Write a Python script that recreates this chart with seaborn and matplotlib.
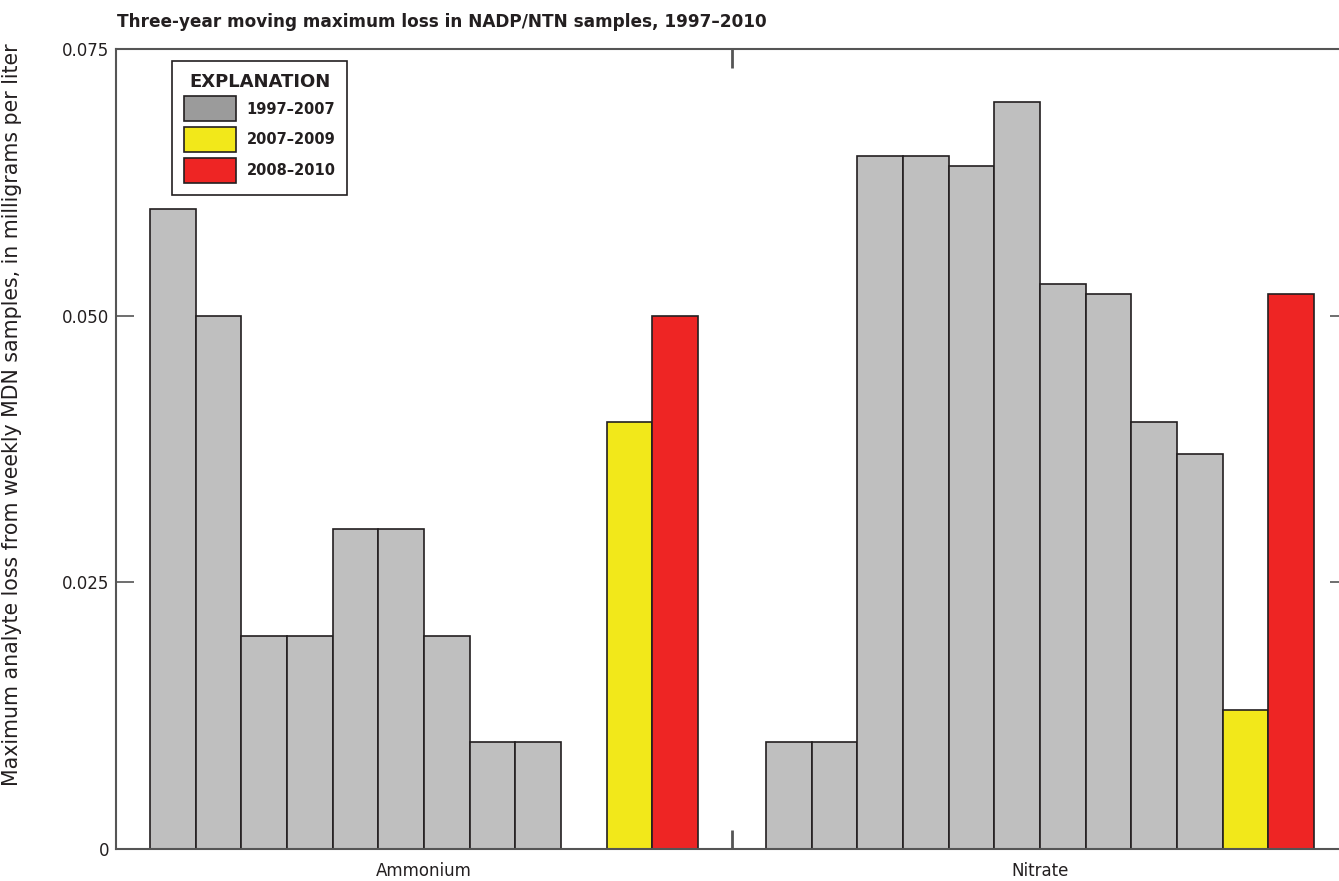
import seaborn as sns
import matplotlib.pyplot as plt
from matplotlib.patches import Patch
from matplotlib.ticker import FixedLocator
import pandas as pd
import numpy as np

# three-year moving windows, in plotting order
windows = ['1997–1999', '1998–2000', '1999–2001', '2000–2002', '2001–2003',
           '2002–2004', '2003–2005', '2004–2006', '2005–2007', '2006–2008',
           '2007–2009', '2008–2010']
periods = ['1997–2007'] * 10 + ['2007–2009', '2008–2010']

ammonium = [0.060, 0.050, 0.020, 0.020, 0.030, 0.030, 0.020, 0.010, 0.010,
            np.nan, 0.040, 0.050]
nitrate = [0.010, 0.010, 0.065, 0.065, 0.064, 0.070, 0.053, 0.052, 0.040,
           0.037, 0.013, 0.052]

period_colors = {'1997–2007': '#bfbfbf', '2007–2009': '#f2e81a', '2008–2010': '#ee2524'}
legend_colors = {'1997–2007': '#9b9b9b', '2007–2009': '#f2e81a', '2008–2010': '#ee2524'}

df = pd.DataFrame({
    'analyte': ['Ammonium'] * 12 + ['Nitrate'] * 12,
    'window': windows * 2,
    'loss': ammonium + nitrate,
})
palette = {w: period_colors[p] for w, p in zip(windows, periods)}

sns.set_style('ticks')
plt.rcParams['font.family'] = ['DejaVu Sans']

fig = plt.figure(figsize=(13.39, 8.81), dpi=100)
ax = fig.add_axes([0.0866, 0.0363, 0.9201, 0.9081])

sns.barplot(data=df, x='analyte', y='loss', hue='window', hue_order=windows,
            palette=palette, width=0.89, gap=0, dodge=True, legend=False,
            edgecolor='#231f20', linewidth=1.2, saturation=1, ax=ax)

ax.set_ylim(0, 0.075)
ax.set_yticks([0, 0.025, 0.050, 0.075])
ax.set_yticklabels(['0', '0.025', '0.050', '0.075'])
ax.tick_params(axis='y', direction='in', length=13, width=1.2, color='#555555',
               labelsize=12, pad=5, right=True, labelcolor='#231f20')
ax.tick_params(axis='x', which='major', length=0, labelsize=12, pad=9,
               labelcolor='#231f20')
ax.xaxis.set_minor_locator(FixedLocator([0.5]))
ax.tick_params(axis='x', which='minor', direction='in', length=14, width=2,
               color='#555555', top=True, bottom=True)
ax.set_xlabel('')
ax.set_ylabel('Maximum analyte loss from weekly MDN samples, in milligrams per liter',
              fontsize=14.8, color='#231f20')
ax.yaxis.set_label_coords(-0.076, 0.5425)

for s in ax.spines.values():
    s.set_color('#555555')
    s.set_linewidth(1.5)

handles = [Patch(facecolor=legend_colors[p], edgecolor='#231f20', linewidth=1.2, label=p)
           for p in period_colors]
leg = ax.legend(handles=handles, title='EXPLANATION', loc='upper left',
                bbox_to_anchor=(0.0455, 0.985), borderaxespad=0, frameon=True,
                fancybox=False, framealpha=1, edgecolor='#231f20',
                handlelength=3.6, handleheight=2.26, handletextpad=0.7,
                labelspacing=0.4, borderpad=0.8,
                prop={'weight': 'bold', 'size': 10.5},
                title_fontproperties={'weight': 'bold', 'size': 13})
leg.get_frame().set_linewidth(1.2)
for t in leg.get_texts():
    t.set_color('#231f20')
leg.get_title().set_color('#231f20')

fig.text(0.0874, 0.969, 'Three-year moving maximum loss in NADP/NTN samples, 1997–2010',
         fontsize=12.2, fontweight='bold', ha='left', va='baseline', color='#231f20')

plt.savefig('out.png', dpi=100)
